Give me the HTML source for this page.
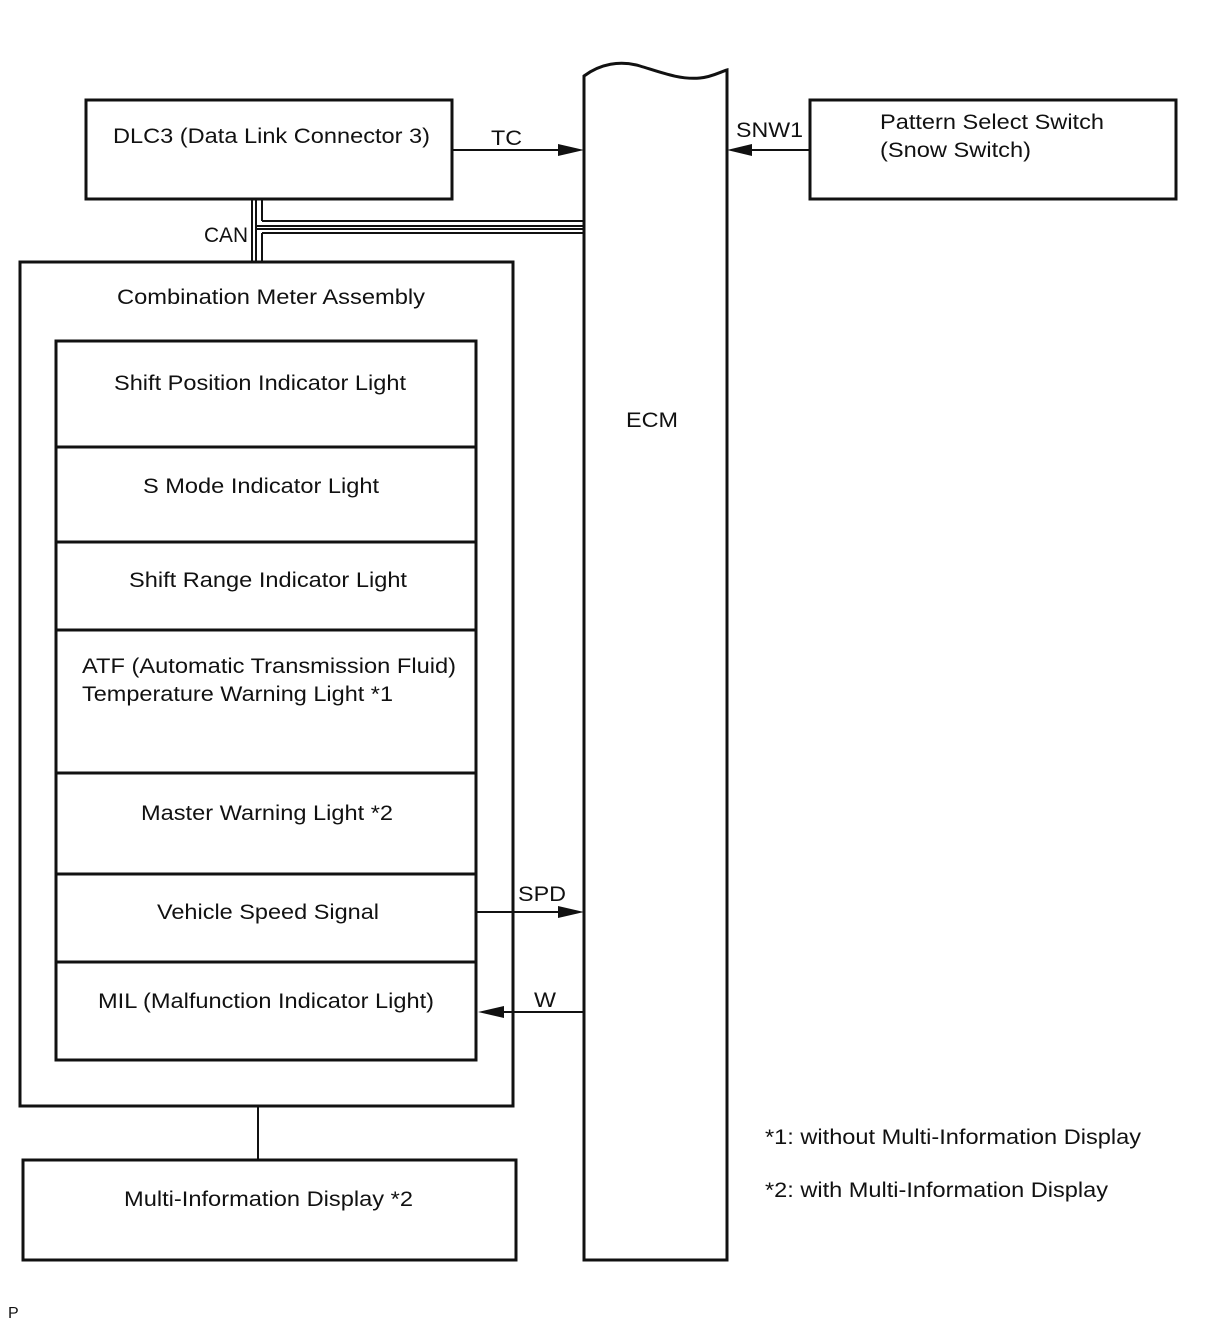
<!DOCTYPE html>
<html><head><style>
body{margin:0;background:#fff}
svg text{font-family:"Liberation Sans",sans-serif;font-size:21px;fill:#111}
</style></head><body>
<svg width="1210" height="1328" viewBox="0 0 1210 1328" xmlns="http://www.w3.org/2000/svg">
<g fill="none" stroke="#111" stroke-width="3">
<rect x="86" y="100" width="366" height="99"/>
<rect x="810" y="100" width="366" height="99"/>
<rect x="20" y="262" width="493" height="844"/>
<rect x="56" y="341" width="420" height="719"/>
<line x1="56" y1="447" x2="476" y2="447"/>
<line x1="56" y1="542" x2="476" y2="542"/>
<line x1="56" y1="630" x2="476" y2="630"/>
<line x1="56" y1="773" x2="476" y2="773"/>
<line x1="56" y1="874" x2="476" y2="874"/>
<line x1="56" y1="962" x2="476" y2="962"/>
<rect x="23" y="1160" width="493" height="100"/>
<line x1="258" y1="1106" x2="258" y2="1160" stroke-width="2"/>
<path d="M584 1260 L584 76 C600 64 620 60 640 66 C660 72 680 80 700 78 C712 77 720 72 727 70 L727 1260 Z"/>
</g>
<g stroke="#111" stroke-width="2" fill="none">
<line x1="452" y1="150" x2="570" y2="150"/>
<line x1="810" y1="150" x2="742" y2="150"/>
<line x1="476" y1="912" x2="570" y2="912"/>
<line x1="584" y1="1012" x2="492" y2="1012"/>
<line x1="252" y1="200" x2="252" y2="262"/>
<line x1="256" y1="200" x2="256" y2="262"/>
<line x1="262" y1="200" x2="262" y2="221"/>
<line x1="262" y1="233" x2="262" y2="262"/>
<line x1="262" y1="221" x2="584" y2="221"/>
<line x1="256" y1="226" x2="584" y2="226"/>
<line x1="256" y1="229" x2="584" y2="229"/>
<line x1="262" y1="233" x2="584" y2="233"/>
</g>
<g fill="#111">
<polygon points="584,150 558,144 558,156"/>
<polygon points="727,150 752,144 752,156"/>
<polygon points="584,912 558,906 558,918"/>
<polygon points="478,1012 504,1006 504,1018"/>
</g>
<text x="113" y="143" textLength="317" lengthAdjust="spacingAndGlyphs">DLC3 (Data Link Connector 3)</text>
<text x="491" y="145" textLength="31" lengthAdjust="spacingAndGlyphs">TC</text>
<text x="736" y="137" textLength="67" lengthAdjust="spacingAndGlyphs">SNW1</text>
<text x="880" y="129" textLength="224" lengthAdjust="spacingAndGlyphs">Pattern Select Switch</text>
<text x="880" y="157" textLength="151" lengthAdjust="spacingAndGlyphs">(Snow Switch)</text>
<text x="204" y="242" textLength="44" lengthAdjust="spacingAndGlyphs">CAN</text>
<text x="117" y="304" textLength="308" lengthAdjust="spacingAndGlyphs">Combination Meter Assembly</text>
<text x="114" y="390" textLength="292" lengthAdjust="spacingAndGlyphs">Shift Position Indicator Light</text>
<text x="143" y="493" textLength="236" lengthAdjust="spacingAndGlyphs">S Mode Indicator Light</text>
<text x="129" y="587" textLength="278" lengthAdjust="spacingAndGlyphs">Shift Range Indicator Light</text>
<text x="82" y="673" textLength="374" lengthAdjust="spacingAndGlyphs">ATF (Automatic Transmission Fluid)</text>
<text x="82" y="701" textLength="311" lengthAdjust="spacingAndGlyphs">Temperature Warning Light *1</text>
<text x="141" y="820" textLength="252" lengthAdjust="spacingAndGlyphs">Master Warning Light *2</text>
<text x="157" y="919" textLength="222" lengthAdjust="spacingAndGlyphs">Vehicle Speed Signal</text>
<text x="98" y="1008" textLength="336" lengthAdjust="spacingAndGlyphs">MIL (Malfunction Indicator Light)</text>
<text x="518" y="901" textLength="48" lengthAdjust="spacingAndGlyphs">SPD</text>
<text x="534" y="1007" textLength="22" lengthAdjust="spacingAndGlyphs">W</text>
<text x="626" y="427" textLength="52" lengthAdjust="spacingAndGlyphs">ECM</text>
<text x="124" y="1206" textLength="289" lengthAdjust="spacingAndGlyphs">Multi-Information Display *2</text>
<text x="765" y="1144" textLength="376" lengthAdjust="spacingAndGlyphs">*1: without Multi-Information Display</text>
<text x="765" y="1197" textLength="343" lengthAdjust="spacingAndGlyphs">*2: with Multi-Information Display</text>
<text x="8" y="1318" style="font-size:16px">P</text>
</svg>
</body></html>
